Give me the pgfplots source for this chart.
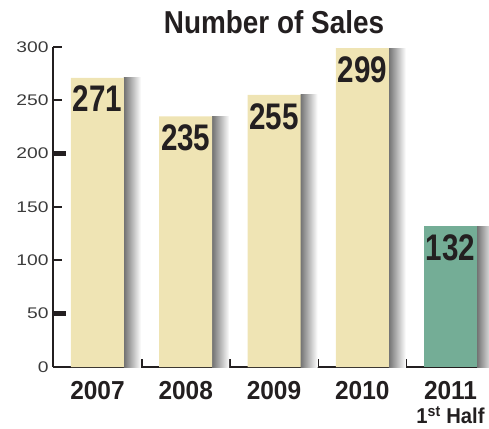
\documentclass[border=0pt]{standalone}
\usepackage{fontspec}
\setmainfont{Liberation Sans}
\newfontfamily\condA[FakeStretch=0.8]{Liberation Sans}
\newfontfamily\condB[FakeStretch=0.88]{Liberation Sans}
\newfontfamily\condC[FakeStretch=0.94]{Liberation Sans}
\newfontfamily\wideF[FakeStretch=1.25]{Liberation Sans}
\usepackage{pgfplots}
\pgfplotsset{compat=1.18}
\definecolor{beige}{RGB}{239,228,180}
\definecolor{sgreen}{RGB}{116,173,150}
\definecolor{ink}{RGB}{35,31,32}
\definecolor{tickgray}{RGB}{60,60,60}
\pgfplotsset{
  rshadow/.style={draw=none, bar width=17pt, bar shift=35pt, left color=black!55, right color=white},
}
\begin{document}
\begin{tikzpicture}[x=1pt,y=1pt]
\begin{axis}[
  at={(53pt,61pt)}, anchor=south west,
  scale only axis, width=436pt, height=320pt,
  xmin=-0.504, xmax=4.436, ymin=0, ymax=300,
  axis x line=bottom, axis y line=left,
  axis line style={line width=2pt, draw=ink, -},
  /pgf/number format/assume math mode=true,
  ybar,
  clip=false,
  tick align=inside,
  major tick length=8.5pt,
  tick style={line width=2pt, draw=ink},
  ytick={0,50,...,300},
  yticklabel style={font=\wideF\fontsize{15.4}{16}\selectfont, text=tickgray, xshift=-1pt},
  extra y ticks={50,200},
  extra y tick labels={},
  extra y tick style={major tick length=13pt, tick style={line width=5.5pt}, major tick style={line width=5.5pt}},
  xtick={0.5,1.5,2.5,3.5},
  xticklabels={},
  extra x ticks={0,1,2,3,4},
  extra x tick labels={2007,2008,2009,2010,{2011\\[-2pt]{\fontsize{21.5}{23}\selectfont 1\textsuperscript{st} Half}}},
  extra x tick style={x tick style={draw=none}, xticklabel style={font=\condC\bfseries\fontsize{26}{26}\selectfont, align=center, text=ink, yshift=-11pt}},
]
% shadows
\addplot[rshadow] coordinates {(0,271)};
\addplot[rshadow] coordinates {(1,235)};
\addplot[rshadow] coordinates {(2,255)};
\addplot[rshadow] coordinates {(3,299)};
\addplot[rshadow] coordinates {(4,132)};
% bars
\addplot[draw=none, fill=beige, bar width=53pt, bar shift=0pt,
  nodes near coords,
  every node near coord/.append style={anchor=north, inner sep=0pt, yshift=-8pt,
    font=\condA\bfseries\fontsize{37}{37}\selectfont, text=ink}]
  coordinates {(0,271) (1,235) (2,255) (3,299)};
\addplot[draw=none, fill=sgreen, bar width=53pt, bar shift=0pt,
  nodes near coords,
  every node near coord/.append style={anchor=north, inner sep=0pt, yshift=-8pt,
    font=\condA\bfseries\fontsize{37}{37}\selectfont, text=ink}]
  coordinates {(4,132)};
\end{axis}
\node[anchor=base, font=\condB\bfseries\fontsize{31.7}{32}\selectfont, text=ink] at (274pt,394.7pt) {Number of Sales};
\pgfresetboundingbox
\path (0,0) rectangle (489pt,428pt);
\end{tikzpicture}
\end{document}
